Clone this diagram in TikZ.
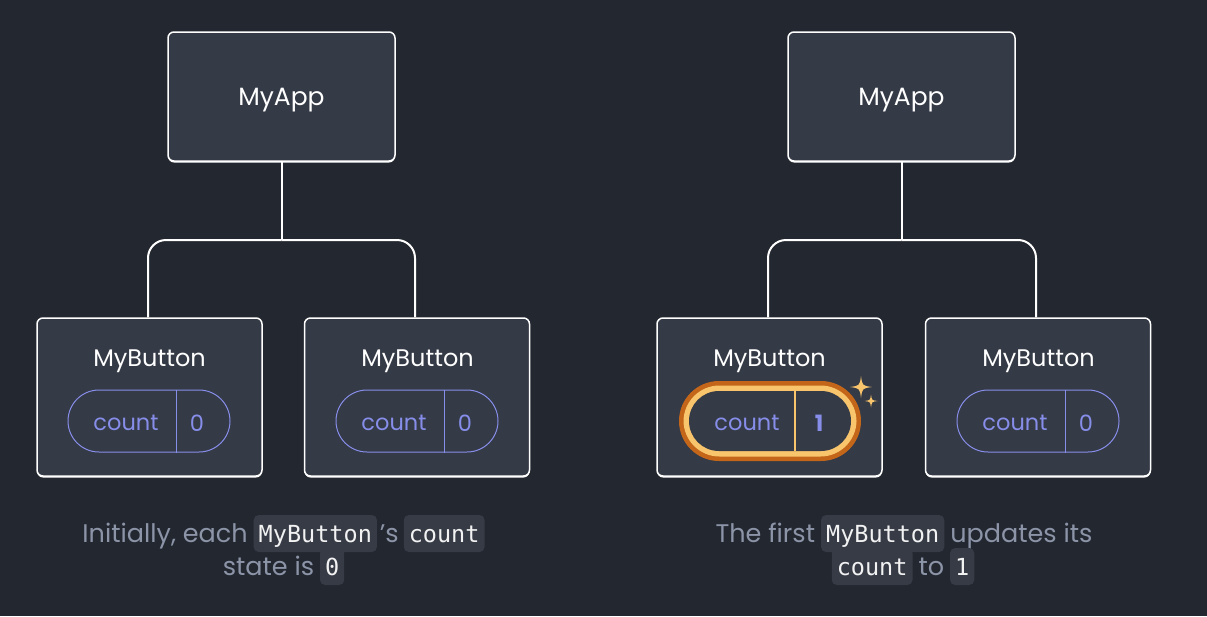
\documentclass[tikz,border=0pt]{standalone}
\usepackage{fontspec}
\setmainfont{Poppins}
\setmonofont{DejaVu Sans Mono}
\usetikzlibrary{matrix,shadows}

\definecolor{bg}{HTML}{23272F}
\definecolor{panel}{HTML}{343A46}
\definecolor{wire}{HTML}{FFFFFF}
\definecolor{statec}{HTML}{878EEA}
\definecolor{capgrey}{HTML}{8C94A8}
\definecolor{codebg}{HTML}{363B46}
\definecolor{codefg}{HTML}{F2F2F2}
\definecolor{hotdark}{HTML}{C4661A}
\definecolor{hotlight}{HTML}{F8C46C}
\definecolor{spark}{HTML}{F8C46C}

\begin{document}
\begin{tikzpicture}[x=1pt,y=-1pt,
  comp/.style={draw=wire, line width=1.5pt, fill=panel, rounded corners=6pt,
    general shadow={fill=wire, shadow yshift=-1.5pt},
    text=white, font=\fontsize{25}{29}\selectfont},
  appbox/.style={comp, minimum width=227pt, minimum height=129pt},
  btnbox/.style={comp, minimum width=225pt, minimum height=158pt},
  title/.style={text=white, font=\fontsize{24}{28}\selectfont, inner sep=0pt},
  pill/.style={draw=statec, line width=1pt, rounded corners=31pt,
    minimum width=162pt, minimum height=62pt, inner sep=0pt},
  pilltext/.style={text=statec, font=\fontsize{22.5}{26}\selectfont, inner sep=0pt},
  link/.style={draw=wire, line width=2pt, rounded corners=18pt},
  caption/.style={matrix of nodes, column sep=0pt, inner sep=0pt,
    nodes={anchor=base, inner xsep=0pt, inner ysep=2pt, text=capgrey,
      font=\fontsize{25.5}{30}\selectfont}},
  codebox/.style={fill=codebg, rounded corners=5pt, inner xsep=5pt,
    text height=25pt, text depth=8pt, text=codefg,
    font=\ttfamily\fontsize{23.5}{27}\selectfont},
  sparkle/.pic={\fill[spark] (0,-1) .. controls (0.12,-0.12) .. (1,0)
    .. controls (0.12,0.12) .. (0,1) .. controls (-0.12,0.12) .. (-1,0)
    .. controls (-0.12,-0.12) .. cycle;}
]
\useasboundingbox (0,0) rectangle (1207,616);
\fill[bg] (0,0) rectangle (1207,616);

% ---------- left tree: initial state ----------
\node[appbox] (appL) at (281.5,96.5) {};
\node[title, font=\fontsize{25}{29}\selectfont] (nL) at (281.5,100) {MyApp};
\node[btnbox] (btnA) at (149.5,397) {};
\node[btnbox] (btnB) at (417,397) {};
\coordinate (jL) at (281.5,240);
\draw[link] (appL.south) -- (jL);
\draw[link] (btnA.north -| 148,0) |- (jL);
\draw[link] (btnB.north -| 415,0) |- (jL);

\node[title] (tA) at (149.5,361) {MyButton};
\node[pill] (pA) at (149,421) {};
\draw[statec, line width=1pt] ([xshift=27pt]pA.north) -- ([xshift=27pt]pA.south);
\node[pilltext] (kA) at (126,423) {count};
\node[pilltext] (vA) at (197,423) {0};

\node[title] (tB) at (417.5,361) {MyButton};
\node[pill] (pB) at (417,421) {};
\draw[statec, line width=1pt] ([xshift=27pt]pB.north) -- ([xshift=27pt]pB.south);
\node[pilltext] (kB) at (394,423) {count};
\node[pilltext] (vB) at (465,423) {0};

% ---------- right tree: after the first click ----------
\node[appbox] (appR) at (901.5,96.5) {};
\node[title, font=\fontsize{25}{29}\selectfont] (nR) at (901.5,100) {MyApp};
\node[btnbox] (btnC) at (769.5,397) {};
\node[btnbox] (btnD) at (1038,397) {};
\coordinate (jR) at (901.5,240);
\draw[link] (appR.south) -- (jR);
\draw[link] (btnC.north -| 768,0) |- (jR);
\draw[link] (btnD.north -| 1036,0) |- (jR);

\node[title] (tC) at (769.5,361) {MyButton};
\node[fill=hotdark, rounded corners=40pt, minimum width=182pt, minimum height=80pt, inner sep=0pt] (hC) at (770,421) {};
\node[fill=hotlight, rounded corners=36pt, minimum width=173pt, minimum height=71pt, inner sep=0pt] (lC) at (hC.center) {};
\node[fill=panel, rounded corners=30pt, minimum width=162pt, minimum height=60pt, inner sep=0pt] (pC) at (hC.center) {};
\draw[hotlight, line width=2.5pt] ([xshift=25pt]pC.north) -- ([xshift=25pt]pC.south);
\node[pilltext] (kC) at (747,423) {count};
\node[pilltext, font=\bfseries\fontsize{22.5}{26}\selectfont] (vC) at (819,423) {1};
\pic at (861,387) [scale=11] {sparkle};
\pic at (871,401) [scale=6.5] {sparkle};

\node[title] (tD) at (1038.5,361) {MyButton};
\node[pill] (pD) at (1038,421) {};
\draw[statec, line width=1pt] ([xshift=27pt]pD.north) -- ([xshift=27pt]pD.south);
\node[pilltext] (kD) at (1015,423) {count};
\node[pilltext] (vD) at (1086,423) {0};

% ---------- captions ----------
\matrix[caption] (capL1) at (283.5,533.5) {
  Initially, each &[6pt] |[codebox]| MyButton &[3pt] ’s &[5pt] |[codebox]| count \\
};
\matrix[caption] (capL2) at (283.5,566.5) {
  state is &[6pt] |[codebox]| 0 \\
};
\matrix[caption] (capR1) at (904,533.5) {
  The first &[6pt] |[codebox]| MyButton &[6pt] updates its \\
};
\matrix[caption] (capR2) at (903,566.5) {
  |[codebox]| count &[6pt] to &[6pt] |[codebox]| 1 \\
};
\end{tikzpicture}
\end{document}
